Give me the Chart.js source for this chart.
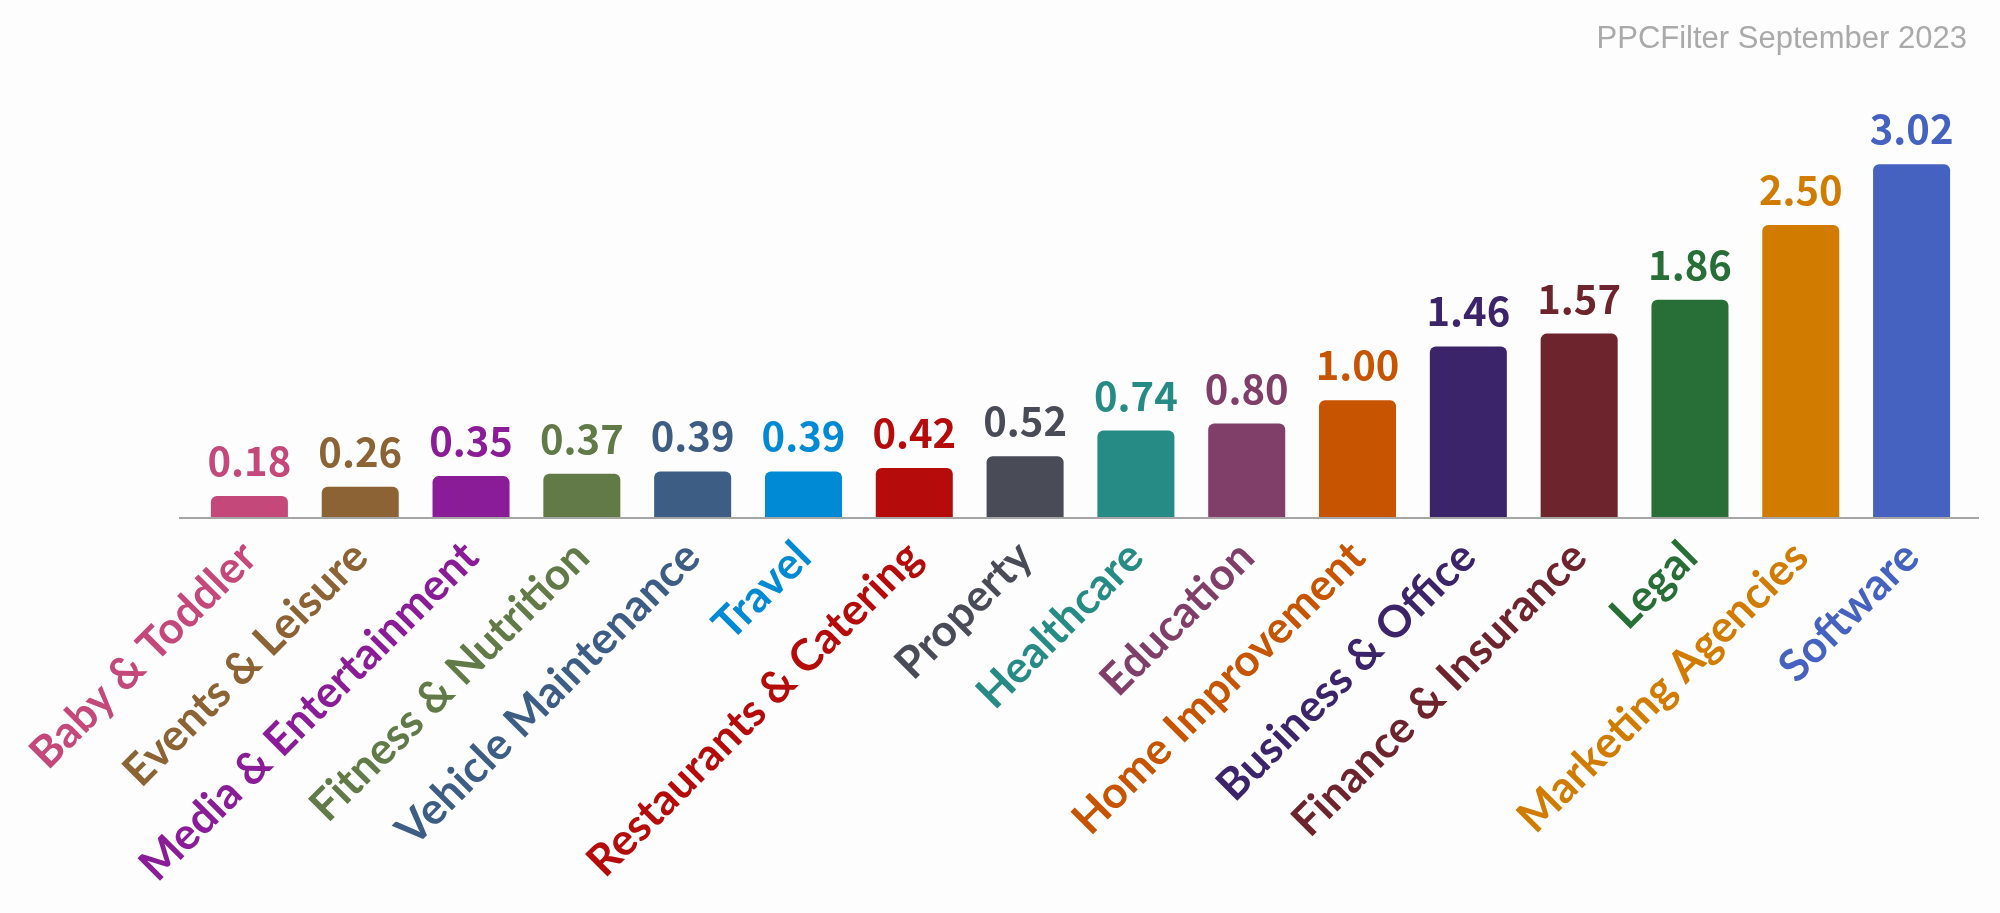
<!DOCTYPE html>
<html>
<head>
<meta charset="utf-8">
<script src="https://cdn.jsdelivr.net/npm/chart.js@4"></script>
<style>
  html, body { margin: 0; padding: 0; background: #fdfdfd; }
  #wrap { width: 2000px; height: 913px; }
</style>
</head>
<body>
<div id="wrap"><canvas id="myBarChart"></canvas></div>
<script>
const categories = [
  'Baby & Toddler', 'Events & Leisure', 'Media & Entertainment', 'Fitness & Nutrition',
  'Vehicle Maintenance', 'Travel', 'Restaurants & Catering', 'Property', 'Healthcare',
  'Education', 'Home Improvement', 'Business & Office', 'Finance & Insurance', 'Legal',
  'Marketing Agencies', 'Software',
];
const values = [0.18, 0.26, 0.35, 0.37, 0.39, 0.39, 0.42, 0.52, 0.74, 0.80, 1.00, 1.46, 1.57, 1.86, 2.50, 3.02];
const colors = [
  '#c4487a', '#8b6334', '#8a1c98', '#617a48', '#3d5d85', '#0089d4', '#b50b0b', '#494c56',
  '#278b85', '#803f69', '#c75400', '#3c246b', '#6e242d', '#286f37', '#d17c00', '#4662c0',
];
const titleText = 'PPCFilter September 2023';

// value labels above each bar
const valueLabels = {
  id: 'valueLabels',
  afterDatasetsDraw(chart) {
    const { ctx } = chart;
    const meta = chart.getDatasetMeta(0);
    ctx.save();
    ctx.font = 'bold 40px "Noto Sans CJK TC"';
    ctx.textAlign = 'center';
    ctx.textBaseline = 'alphabetic';
    meta.data.forEach((bar, i) => {
      ctx.fillStyle = colors[i];
      ctx.fillText(values[i].toFixed(2), bar.x, bar.y - 20);
    });
    ctx.restore();
  },
};

// baseline a little wider than the plot area
const baseLine = {
  id: 'baseLine',
  afterDatasetsDraw(chart) {
    const { ctx, chartArea } = chart;
    ctx.save();
    ctx.strokeStyle = '#a6a6a6';
    ctx.lineWidth = 2;
    ctx.beginPath();
    ctx.moveTo(chartArea.left - 15, chartArea.bottom + 1);
    ctx.lineTo(chartArea.right + 12, chartArea.bottom + 1);
    ctx.stroke();
    ctx.restore();
  },
};

const ctx = document.getElementById('myBarChart').getContext('2d');
const myBarChart = new Chart(ctx, {
  type: 'bar',
  data: {
    labels: categories,
    datasets: [{
      data: values,
      backgroundColor: colors,
      borderRadius: 6,
      borderSkipped: 'bottom',
      barPercentage: 0.695,
      categoryPercentage: 1,
    }],
  },
  options: {
    responsive: true,
    maintainAspectRatio: false,
    animation: false,
    layout: { padding: { left: 194, right: 33, top: 0, bottom: 0 } },
    plugins: {
      legend: { display: false },
      tooltip: { enabled: false },
      title: {
        display: true,
        text: titleText,
        align: 'end',
        color: '#aaaaaa',
        font: { family: '"Liberation Sans", Arial', size: 31, weight: 'normal', lineHeight: 1.2 },
        padding: { top: 21, bottom: 50 },
      },
    },
    scales: {
      x: {
        grid: { display: false },
        border: { display: false },
        ticks: {
          autoSkip: false,
          minRotation: 45,
          maxRotation: 45,
          padding: 6,
          color: (c) => colors[c.index],
          font: { family: 'Lato', size: 44, weight: 'bold' },
        },
        afterFit: (scale) => { scale.height = 396; },
      },
      y: {
        display: false,
        min: 0,
        max: 3.5,
      },
    },
  },
  plugins: [valueLabels, baseLine],
});
</script>
</body>
</html>
